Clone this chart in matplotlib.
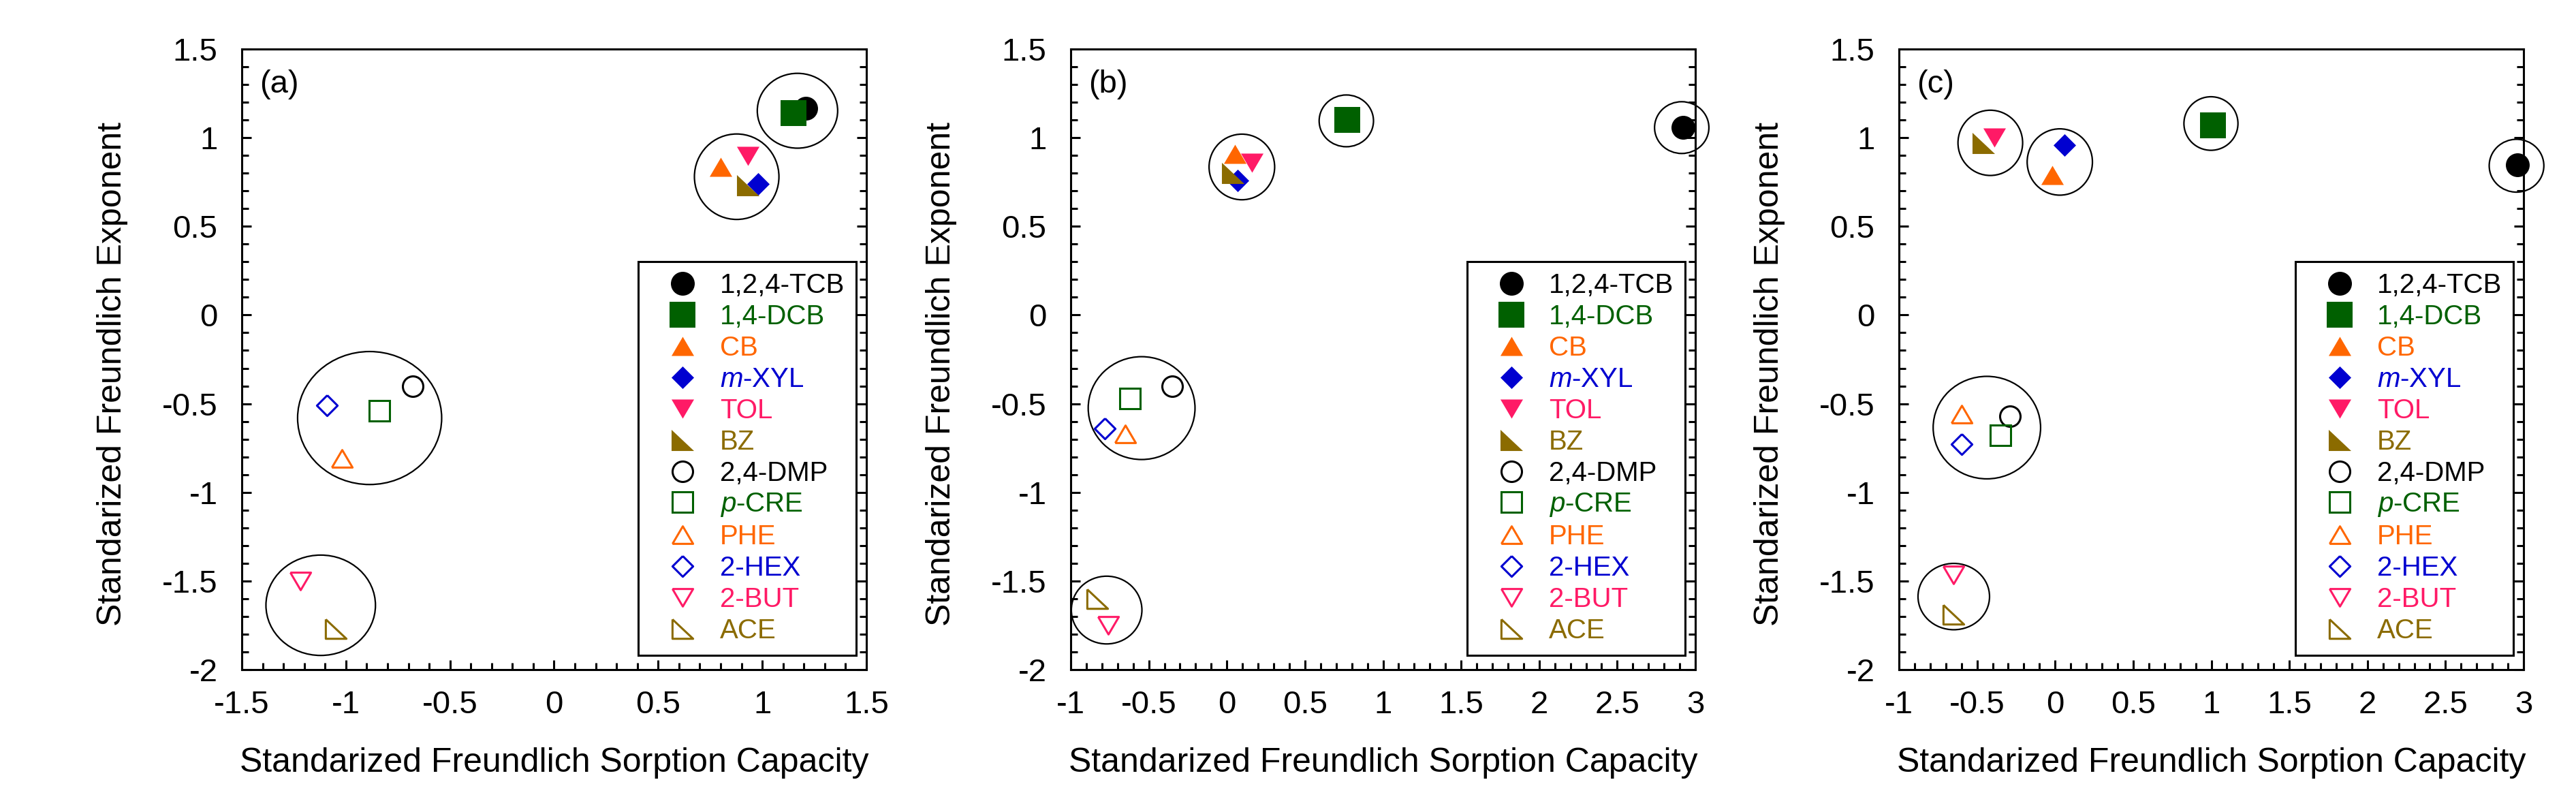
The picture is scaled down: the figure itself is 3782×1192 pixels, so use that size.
import matplotlib
matplotlib.use("Agg")
import matplotlib.pyplot as plt
from matplotlib.patches import Ellipse
from matplotlib.ticker import MultipleLocator, FuncFormatter

plt.rcParams['font.family'] = ['Liberation Sans', 'DejaVu Sans']
plt.rcParams['mathtext.fontset'] = 'custom'
plt.rcParams['mathtext.rm'] = 'Liberation Sans'
plt.rcParams['mathtext.it'] = 'Liberation Sans:italic'
plt.rcParams['axes.unicode_minus'] = False

# ---------------- data ----------------
labels = ['1,2,4-TCB', '1,4-DCB', 'CB', '$m$-XYL', 'TOL', 'BZ',
          '2,4-DMP', '$p$-CRE', 'PHE', '2-HEX', '2-BUT', 'ACE']
colors = ['#000000', '#006000', '#FF6600', '#0000D0', '#FF1A66', '#8B6B00',
          '#000000', '#006000', '#FF6600', '#0000D0', '#FF1A66', '#8B6B00']
shapes = ['circle', 'square', 'up', 'diamond', 'down', 'rtri',
          'circle', 'square', 'up', 'diamond', 'down', 'rtri']
filled = [True, True, True, True, True, True,
          False, False, False, False, False, False]

# panel (a)
x_a = [1.21, 1.15, 0.80, 0.98, 0.93, 0.93, -0.68, -0.84, -1.02, -1.09, -1.22, -1.05]
y_a = [1.165, 1.14, 0.835, 0.74, 0.895, 0.73, -0.40, -0.54, -0.81, -0.51, -1.50, -1.77]
# panel (b)
x_b = [2.92, 0.77, 0.05, 0.07, 0.16, 0.04, -0.35, -0.62, -0.65, -0.78, -0.76, -0.83]
y_b = [1.06, 1.10, 0.91, 0.76, 0.86, 0.80, -0.40, -0.47, -0.67, -0.64, -1.75, -1.60]
# panel (c)
x_c = [2.96, 1.01, -0.02, 0.06, -0.39, -0.46, -0.29, -0.35, -0.60, -0.60, -0.65, -0.65]
y_c = [0.845, 1.07, 0.79, 0.96, 1.00, 0.97, -0.57, -0.68, -0.56, -0.73, -1.465, -1.69]

# grouping circles: centre x, centre y, half-width, half-height (data units)
ell_a_x = [1.169, 0.877, -0.886, -1.121]
ell_a_y = [1.152, 0.780, -0.581, -1.637]
ell_a_rx = [0.193, 0.203, 0.346, 0.263]
ell_a_ry = [0.211, 0.241, 0.375, 0.283]

ell_b_x = [2.913, 0.765, 0.096, -0.546, -0.770]
ell_b_y = [1.057, 1.095, 0.835, -0.525, -1.664]
ell_b_rx = [0.174, 0.174, 0.210, 0.342, 0.226]
ell_b_ry = [0.146, 0.146, 0.185, 0.290, 0.191]

ell_c_x = [2.955, 0.998, -0.415, 0.030, -0.437, -0.649]
ell_c_y = [0.842, 1.080, 0.971, 0.863, -0.635, -1.588]
ell_c_rx = [0.175, 0.173, 0.207, 0.209, 0.344, 0.229]
ell_c_ry = [0.149, 0.151, 0.184, 0.187, 0.289, 0.187]

panel_tags = ['(a)', '(b)', '(c)']
xlims = [(-1.5, 1.5), (-1.0, 3.0), (-1.0, 3.0)]
ylim = (-2.0, 1.5)
xlabel = 'Standarized Freundlich Sorption Capacity'
ylabel = 'Standarized Freundlich Exponent'

# ---------------- styles ----------------
marker_paths = {
    'up': [(-1, -0.85), (1, -0.85), (0, 0.85), (-1, -0.85)],
    'down': [(-1, 0.85), (1, 0.85), (0, -0.85), (-1, 0.85)],
    'diamond': [(0, 1), (1, 0), (0, -1), (-1, 0), (0, 1)],
    'rtri': [(-1, 0.94), (-1, -0.94), (1, -0.94), (-1, 0.94)],
}
filled_sizes = {'circle': 25.2, 'square': 27.0, 'up': 23.8, 'down': 23.8,
                'diamond': 23.8, 'rtri': 23.8}
open_sizes = {'circle': 21.6, 'square': 22.3, 'up': 21.8, 'down': 21.8,
              'diamond': 21.8, 'rtri': 21.8}


def mstyle(shape):
    if shape == 'circle':
        return 'o'
    if shape == 'square':
        return 's'
    return marker_paths[shape]


W, H = 3782, 1192
fig = plt.figure(figsize=(W / 100, H / 100), dpi=100)
fig.patch.set_facecolor('white')

ax_left_px = [355, 1572, 2788]
ax_w_px = 917
ax_top_px = 72
ax_bot_px = 983

panels = [(x_a, y_a, ell_a_x, ell_a_y, ell_a_rx, ell_a_ry),
          (x_b, y_b, ell_b_x, ell_b_y, ell_b_rx, ell_b_ry),
          (x_c, y_c, ell_c_x, ell_c_y, ell_c_rx, ell_c_ry)]


def fmt(v, pos):
    if abs(v) < 1e-9:
        return '0'
    return f"{v:g}"


for i, (xs, ys, ex, ey, erx, ery) in enumerate(panels):
    rect = [ax_left_px[i] / W, (H - ax_bot_px) / H, ax_w_px / W,
            (ax_bot_px - ax_top_px) / H]
    ax = fig.add_axes(rect)
    ax.set_xlim(*xlims[i])
    ax.set_ylim(*ylim)

    for k in range(len(labels)):
        sh = shapes[k]
        if filled[k]:
            ax.plot([xs[k]], [ys[k]], linestyle='none', marker=mstyle(sh),
                    markersize=filled_sizes[sh], markerfacecolor=colors[k],
                    markeredgewidth=0, color=colors[k], label=labels[k],
                    clip_on=False, zorder=3)
        else:
            ax.plot([xs[k]], [ys[k]], linestyle='none', marker=mstyle(sh),
                    markersize=open_sizes[sh], markerfacecolor='none',
                    markeredgecolor=colors[k], markeredgewidth=2.2,
                    color=colors[k], label=labels[k], clip_on=False, zorder=3)

    for cx, cy, rx, ry in zip(ex, ey, erx, ery):
        ax.add_patch(Ellipse((cx, cy), 2 * rx, 2 * ry, fill=False,
                             edgecolor='black', linewidth=1.6, clip_on=False,
                             zorder=2))

    ax.xaxis.set_major_locator(MultipleLocator(0.5))
    ax.xaxis.set_minor_locator(MultipleLocator(0.1))
    ax.yaxis.set_major_locator(MultipleLocator(0.5))
    ax.yaxis.set_minor_locator(MultipleLocator(0.1))
    ax.xaxis.set_major_formatter(FuncFormatter(fmt))
    ax.yaxis.set_major_formatter(FuncFormatter(fmt))
    ax.tick_params(which='both', direction='in', top=False, right=True,
                   bottom=True, left=True, width=2.2, colors='black')
    ax.tick_params(which='major', length=10)
    ax.tick_params(which='minor', length=7)
    ax.tick_params(axis='x', which='major', labelsize=34, pad=21.6)
    ax.tick_params(axis='y', which='major', labelsize=34, pad=25.5)
    for sp in ax.spines.values():
        sp.set_linewidth(2.2)

    ax.set_xlabel(xlabel, fontsize=36)
    ax.set_ylabel(ylabel, fontsize=36)
    ax.xaxis.set_label_coords(0.5, -0.125)
    ax.yaxis.set_label_coords(-0.1825, 0.476)

    ax.text(0.028, 0.967, panel_tags[i], transform=ax.transAxes,
            fontsize=34, ha='left', va='top')

    leg = ax.legend(loc='upper left', bbox_to_anchor=(0.635, 0.658),
                    fontsize=29, borderpad=0.42, handlelength=2.35,
                    handletextpad=0.2, labelspacing=0.195, borderaxespad=0,
                    numpoints=1, frameon=True, fancybox=False,
                    edgecolor='black', framealpha=1)
    leg.get_frame().set_linewidth(2.2)
    for t, c in zip(leg.get_texts(), colors):
        t.set_color(c)

fig.savefig('out.png', dpi=100, facecolor='white')
